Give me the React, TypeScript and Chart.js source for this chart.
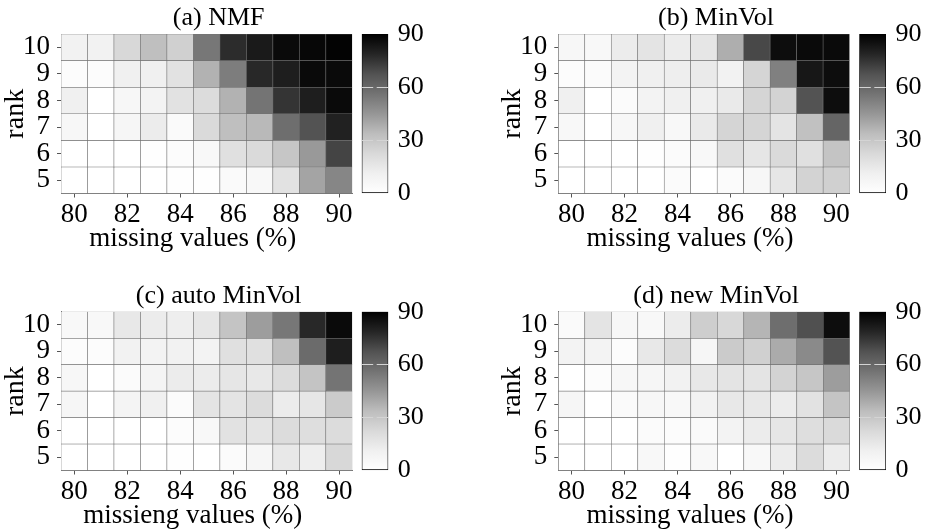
import React, { useEffect, useRef } from 'react';
import { Chart, registerables } from 'chart.js';

Chart.register(...registerables);

// ---------- data ----------
const missingValues = [80, 81, 82, 83, 84, 85, 86, 87, 88, 89, 90];
const ranks = [10, 9, 8, 7, 6, 5]; // rows, top to bottom
const colorbarTicks = [0, 30, 60, 90];
const colorMax = 90;

const nmfValues = [
  [10, 10, 23, 33, 26, 55, 77, 82, 87, 88, 89],
  [2, 2, 11, 11, 18, 37, 53, 78, 81, 87, 87],
  [11, 0, 6, 9, 18, 21, 37, 56, 75, 81, 87],
  [6, 0, 7, 13, 4, 22, 33, 35, 58, 67, 80],
  [0, 0, 0, 1, 2, 5, 19, 22, 30, 44, 71],
  [0, 0, 0, 0, 1, 1, 4, 5, 18, 41, 50],
];
const minVolValues = [
  [6, 5, 13, 17, 13, 16, 38, 70, 86, 87, 87],
  [2, 3, 9, 11, 12, 14, 10, 24, 52, 83, 86],
  [11, 0, 3, 9, 11, 11, 14, 24, 25, 67, 86],
  [5, 0, 6, 11, 5, 14, 24, 24, 17, 32, 61],
  [0, 0, 0, 1, 3, 5, 19, 16, 22, 19, 31],
  [0, 0, 0, 0, 3, 0, 3, 6, 16, 25, 26],
];
const autoMinVolValues = [
  [5, 5, 15, 13, 12, 16, 31, 43, 55, 78, 87],
  [2, 2, 10, 9, 10, 9, 19, 19, 33, 59, 81],
  [6, 0, 3, 8, 13, 13, 16, 15, 21, 31, 56],
  [7, 0, 8, 11, 3, 17, 17, 21, 13, 16, 28],
  [0, 0, 0, 0, 2, 5, 18, 17, 21, 20, 21],
  [0, 0, 0, 0, 1, 0, 3, 7, 15, 12, 23],
];
const newMinVolValues = [
  [4, 17, 6, 5, 13, 27, 23, 36, 58, 68, 86],
  [9, 9, 2, 15, 21, 7, 28, 26, 39, 49, 67],
  [0, 2, 6, 7, 10, 15, 17, 17, 25, 30, 43],
  [7, 0, 4, 6, 5, 10, 15, 15, 13, 18, 31],
  [0, 0, 0, 3, 2, 4, 9, 13, 16, 20, 22],
  [0, 0, 0, 5, 1, 5, 0, 5, 13, 21, 13],
];

const panelTitles = ['(a) NMF', '(b) MinVol', '(c) auto MinVol', '(d) new MinVol'];
const panelXLabels = ['missing values (%)', 'missing values (%)', 'missieng values (%)', 'missing values (%)'];
const panelValues = [nmfValues, minVolValues, autoMinVolValues, newMinVolValues];
const yAxisTitle = 'rank';

// ---------- styling / geometry ----------
const FONT = '"Liberation Serif", "Times New Roman", serif';
const GREYS = ['#ffffff', '#f0f0f0', '#d9d9d9', '#bdbdbd', '#969696', '#737373', '#525252', '#252525', '#000000'];

const geometry = [
  { plotL: 61, plotR: 352.3, plotT: 34, plotB: 193.5, cbL: 361.7, cbR: 388.3, canvasTop: 0, canvasH: 266 },
  { plotL: 558.3, plotR: 849.6, plotT: 34, plotB: 193.5, cbL: 859.3, cbR: 886, canvasTop: 0, canvasH: 266 },
  { plotL: 61, plotR: 352.3, plotT: 311.7, plotB: 470.5, cbL: 361.7, cbR: 388.3, canvasTop: 270, canvasH: 262 },
  { plotL: 558.3, plotR: 849.8, plotT: 311.7, plotB: 470.5, cbL: 859.3, cbR: 886, canvasTop: 270, canvasH: 262 },
];

function hexToRgb(h: string) {
  return [parseInt(h.slice(1, 3), 16), parseInt(h.slice(3, 5), 16), parseInt(h.slice(5, 7), 16)];
}
function greyFor(v: number) {
  const t = Math.max(0, Math.min(1, v / colorMax));
  const pos = t * (GREYS.length - 1);
  const i = Math.min(GREYS.length - 2, Math.floor(pos));
  const f = pos - i;
  const a = hexToRgb(GREYS[i]);
  const b = hexToRgb(GREYS[i + 1]);
  const c = a.map((x, k) => Math.round(x + (b[k] - x) * f));
  return `rgb(${c[0]},${c[1]},${c[2]})`;
}

function Heatmap({ idx }: { idx: number }) {
  const ref = useRef<HTMLCanvasElement>(null);
  const g = geometry[idx];
  const cl = Math.floor(g.plotL - 61);
  const cw = Math.ceil(g.plotR - cl + 4);
  const ch = g.canvasH;
  const ct = g.canvasTop;

  useEffect(() => {
    if (!ref.current) return;
    const values = panelValues[idx];
    const title = panelTitles[idx];
    const xlabel = panelXLabels[idx];
    const textPlugin = {
      id: 'panelText',
      afterDraw(chart: any) {
        const { ctx, chartArea } = chart;
        const cx = (chartArea.left + chartArea.right) / 2;
        ctx.save();
        ctx.fillStyle = '#000';
        ctx.textAlign = 'center';
        ctx.textBaseline = 'alphabetic';
        ctx.font = `26px ${FONT}`;
        ctx.fillText(title, cx + 12, chartArea.top - 9);
        ctx.font = `27px ${FONT}`;
        ctx.fillText(xlabel, cx - 14, chartArea.bottom + 52);
        ctx.restore();
      },
    };
    const chart = new Chart(ref.current, {
      type: 'bar',
      data: {
        labels: missingValues.map(String),
        datasets: ranks.map((r, i) => ({
          label: `rank ${r}`,
          data: missingValues.map(() => [r - 0.5, r + 0.5]),
          backgroundColor: values[i].map(greyFor),
          borderColor: '#707070',
          borderWidth: 0.6,
          borderSkipped: false,
          barPercentage: 1,
          categoryPercentage: 1,
          grouped: false,
        })),
      } as any,
      options: {
        responsive: false,
        animation: false,
        devicePixelRatio: 1,
        layout: { padding: { left: 0, top: g.plotT - ct, right: cw - (g.plotR - cl), bottom: 0 } },
        plugins: { legend: { display: false }, tooltip: { enabled: false }, title: { display: false } },
        scales: {
          x: {
            type: 'category',
            offset: true,
            grid: {
              offset: false,
              drawOnChartArea: false,
              drawTicks: true,
              tickLength: 4,
              tickColor: (c: any) => (missingValues[c.index] % 2 === 0 ? '#555' : 'rgba(0,0,0,0)'),
            },
            border: { display: true, color: '#777' },
            ticks: {
              autoSkip: false,
              maxRotation: 0,
              minRotation: 0,
              padding: 3.5,
              color: '#000',
              font: { family: FONT, size: 27, lineHeight: 1 },
              callback: (_v: any, i: number) => (missingValues[i] % 2 === 0 ? String(missingValues[i]) : ''),
            },
            afterFit: (s: any) => {
              s.height = ch - (g.plotB - ct);
            },
          },
          y: {
            type: 'linear',
            min: 4.5,
            max: 10.5,
            afterBuildTicks: (s: any) => {
              s.ticks = [...ranks].reverse().map((v) => ({ value: v }));
            },
            grid: { drawOnChartArea: false, drawTicks: true, tickLength: 4, tickColor: '#555' },
            border: { display: true, color: '#777' },
            ticks: { padding: 7, color: '#000', font: { family: FONT, size: 27, lineHeight: 1 } },
            title: {
              display: true,
              text: yAxisTitle,
              color: '#000',
              font: { family: FONT, size: 28, lineHeight: 1 },
              padding: { top: 2, bottom: 0 },
            },
            afterFit: (s: any) => {
              s.width = g.plotL - cl;
            },
          },
        },
      } as any,
      plugins: [textPlugin],
    });
    return () => chart.destroy();
  }, [idx]);

  return (
    <canvas
      ref={ref}
      width={cw}
      height={ch}
      style={{ position: 'absolute', left: cl, top: ct, width: cw, height: ch, display: 'block' }}
    />
  );
}

function Colorbar({ idx }: { idx: number }) {
  const ref = useRef<HTMLCanvasElement>(null);
  const g = geometry[idx];
  const cl = Math.floor(g.cbL) - 12;
  const cw = Math.min(90, 927 - cl);
  const ch = g.canvasH;
  const ct = g.canvasTop;

  useEffect(() => {
    if (!ref.current) return;
    const chart = new Chart(ref.current, {
      type: 'bar',
      data: {
        labels: [''],
        datasets: [
          {
            data: [[0, colorMax]],
            backgroundColor: (c: any) => {
              const chartObj = c.chart;
              const ys = chartObj.scales && chartObj.scales.y;
              if (!ys || !chartObj.chartArea) return '#888';
              const grad = chartObj.ctx.createLinearGradient(0, ys.getPixelForValue(0), 0, ys.getPixelForValue(colorMax));
              GREYS.forEach((col, i) => grad.addColorStop(i / (GREYS.length - 1), col));
              return grad;
            },
            borderColor: '#000',
            borderWidth: 1,
            borderSkipped: false,
            barPercentage: 1,
            categoryPercentage: 1,
          },
        ],
      } as any,
      options: {
        responsive: false,
        animation: false,
        devicePixelRatio: 1,
        layout: { padding: { left: g.cbL - cl, right: 0, top: g.plotT - ct, bottom: ch - (g.plotB - ct) } },
        plugins: { legend: { display: false }, tooltip: { enabled: false } },
        scales: {
          x: { display: false, offset: true },
          y: {
            position: 'right',
            min: 0,
            max: colorMax,
            afterBuildTicks: (s: any) => {
              s.ticks = colorbarTicks.map((v) => ({ value: v }));
            },
            grid: {
              drawOnChartArea: true,
              drawTicks: false,
              z: 1,
              lineWidth: 1,
              color: (c: any) =>
                c.tick && c.tick.value > 0 && c.tick.value < colorMax ? '#d4d4d4' : 'rgba(0,0,0,0)',
            },
            border: { display: false, dash: [11.5, 3.5] },
            ticks: { padding: 9.5, color: '#000', font: { family: FONT, size: 26, lineHeight: 1 } },
            afterFit: (s: any) => {
              s.width = cw - (g.cbR - cl);
            },
          },
        },
      } as any,
    });
    return () => chart.destroy();
  }, [idx]);

  return (
    <canvas
      ref={ref}
      width={cw}
      height={ch}
      style={{ position: 'absolute', left: cl, top: ct, width: cw, height: ch, display: 'block' }}
    />
  );
}

export default function App() {
  return (
    <div style={{ position: 'absolute', left: 0, top: 0, width: 927, height: 532, background: '#fff', overflow: 'hidden' }}>
      {[0, 1, 2, 3].map((i) => (
        <React.Fragment key={i}>
          <Heatmap idx={i} />
          <Colorbar idx={i} />
        </React.Fragment>
      ))}
    </div>
  );
}
